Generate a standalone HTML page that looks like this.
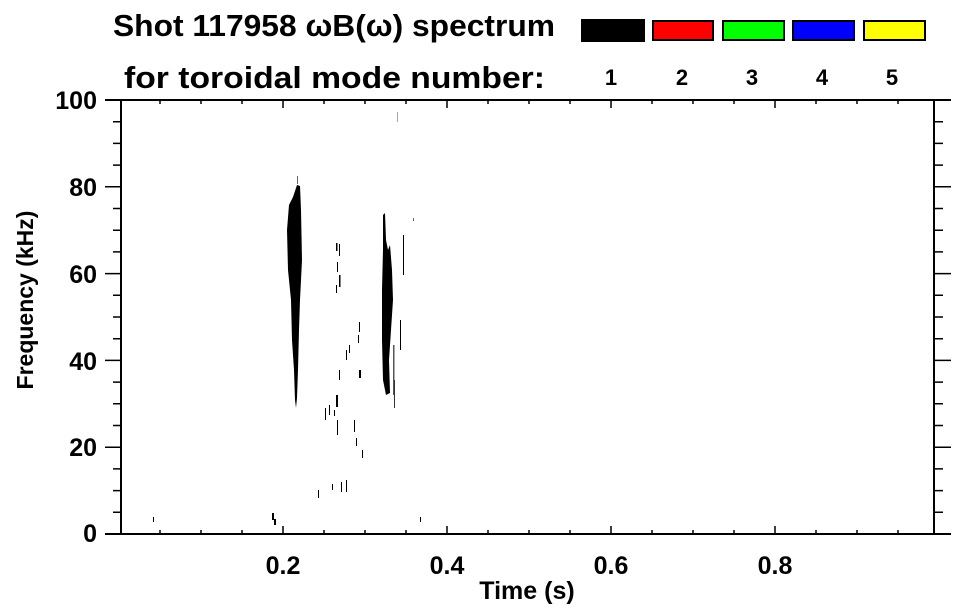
<!DOCTYPE html>
<html><head><meta charset="utf-8"><style>
html,body{margin:0;padding:0;background:#fff;}
svg{display:block;font-family:"Liberation Sans",Arial,sans-serif;font-weight:bold;}
</style></head><body>
<svg width="963" height="615" viewBox="0 0 963 615" xmlns="http://www.w3.org/2000/svg">
<text x="113" y="36" font-size="31" textLength="442" lengthAdjust="spacingAndGlyphs">Shot 117958 ωB(ω) spectrum</text>
<text x="124" y="88" font-size="31" textLength="421" lengthAdjust="spacingAndGlyphs">for toroidal mode number:</text>
<g stroke="#000" stroke-width="2">
<rect x="582" y="20" width="62" height="21" fill="#000"/>
<rect x="653" y="21" width="60" height="19" fill="#f00"/>
<rect x="723" y="21" width="61" height="19" fill="#0f0"/>
<rect x="793" y="21" width="61" height="19" fill="#00f"/>
<rect x="864" y="21" width="61" height="19" fill="#ff0"/>
</g>
<g font-size="22" text-anchor="middle">
<text x="611" y="85">1</text><text x="682" y="85">2</text><text x="752" y="85">3</text><text x="822" y="85">4</text><text x="892" y="85">5</text>
</g>
<!-- spectrogram -->
<g fill="#000">
<path d="M289 205 L293 197 L297 185 L300 186 L301 210 L302 260 L300 300 L299 330 L298 370 L297 398 L296 408 L295 400 L294 370 L292 340 L291 300 L288 270 L287 230 Z"/>
<path d="M383 215 L385 213 L386 240 L388 250 L390 245 L392 270 L393 300 L391 330 L389 360 L390 393 L386 395 L383 380 L382 340 L382 290 L383 250 Z"/>
<rect x="297" y="176" width="1" height="8" fill="#666"/>
<rect x="393" y="345" width="1.5" height="50" fill="#555"/>
<rect x="394" y="380" width="1" height="28" fill="#333"/>
<rect x="336" y="243" width="1.5" height="8"/>
<rect x="339" y="244" width="1" height="12"/>
<rect x="337" y="262" width="1" height="10"/>
<rect x="339" y="275" width="1.5" height="12"/>
<rect x="336" y="285" width="1" height="8"/>
<rect x="359" y="322" width="1" height="10"/>
<rect x="358" y="335" width="1" height="8"/>
<rect x="346" y="350" width="1" height="10"/>
<rect x="349" y="345" width="1" height="8"/>
<rect x="359" y="370" width="2" height="8"/>
<rect x="339" y="370" width="1" height="10"/>
<rect x="336" y="395" width="2" height="12"/>
<rect x="329" y="405" width="1" height="10"/>
<rect x="334" y="410" width="1" height="6"/>
<rect x="337" y="420" width="1" height="15"/>
<rect x="354" y="420" width="1" height="12"/>
<rect x="356" y="438" width="1" height="8"/>
<rect x="325" y="408" width="1" height="12"/>
<rect x="362" y="450" width="1" height="8"/>
<rect x="346" y="480" width="1" height="12"/>
<rect x="341" y="482" width="1" height="10"/>
<rect x="332" y="484" width="1" height="6"/>
<rect x="318" y="490" width="1" height="8"/>
<rect x="272" y="513" width="2" height="7"/>
<rect x="274" y="519" width="2" height="6"/>
<rect x="153" y="517" width="1" height="5"/>
<rect x="420" y="517" width="1" height="5"/>
<rect x="413" y="218" width="1" height="3" fill="#666"/>
<rect x="397" y="112" width="1" height="10" fill="#e88"/>
<rect x="403" y="235" width="1" height="40"/>
<rect x="400" y="320" width="1" height="30"/>
</g>
<!-- axes -->
<g stroke="#000" stroke-width="2" fill="none">
<rect x="121" y="100" width="813" height="434"/>
<line x1="105" y1="100" x2="951" y2="100"/>
<line x1="105" y1="534" x2="951" y2="534"/>
</g>
<g stroke="#000" stroke-width="1.5">
<path d="M160 534v-4M201 534v-4M242 534v-4M283 534v-8M324 534v-4M365 534v-4M406 534v-4M447 534v-8M488 534v-4M529 534v-4M570 534v-4M611 534v-8M652 534v-4M693 534v-4M734 534v-4M775 534v-8M816 534v-4M857 534v-4M898 534v-4"/>
<path d="M160 100v4M201 100v4M242 100v4M283 100v8M324 100v4M365 100v4M406 100v4M447 100v8M488 100v4M529 100v4M570 100v4M611 100v8M652 100v4M693 100v4M734 100v4M775 100v8M816 100v4M857 100v4M898 100v4"/>
<path d="M105 186.8h16M105 273.6h16M105 360.4h16M105 447.2h16 M113 121.7h8M113 143.4h8M113 165.1h8M113 208.5h8M113 230.2h8M113 251.9h8M113 295.3h8M113 317h8M113 338.7h8M113 382.1h8M113 403.8h8M113 425.5h8M113 468.9h8M113 490.6h8M113 512.3h8"/>
<path d="M934 186.8h17M934 273.6h17M934 360.4h17M934 447.2h17 M934 121.7h9M934 143.4h9M934 165.1h9M934 208.5h9M934 230.2h9M934 251.9h9M934 295.3h9M934 317h9M934 338.7h9M934 382.1h9M934 403.8h9M934 425.5h9M934 468.9h9M934 490.6h9M934 512.3h9"/>
</g>
<g font-size="25" text-anchor="end">
<text x="97" y="109">100</text><text x="97" y="196">80</text><text x="97" y="283">60</text><text x="97" y="370">40</text><text x="97" y="456">20</text><text x="97" y="542">0</text>
</g>
<g font-size="25" text-anchor="middle">
<text x="283" y="574">0.2</text><text x="447" y="574">0.4</text><text x="611" y="574">0.6</text><text x="775" y="574">0.8</text>
<text x="527" y="599">Time (s)</text>
<text transform="translate(33,300) rotate(-90)" font-size="23">Frequency (kHz)</text>
</g>
</svg>
</body></html>
